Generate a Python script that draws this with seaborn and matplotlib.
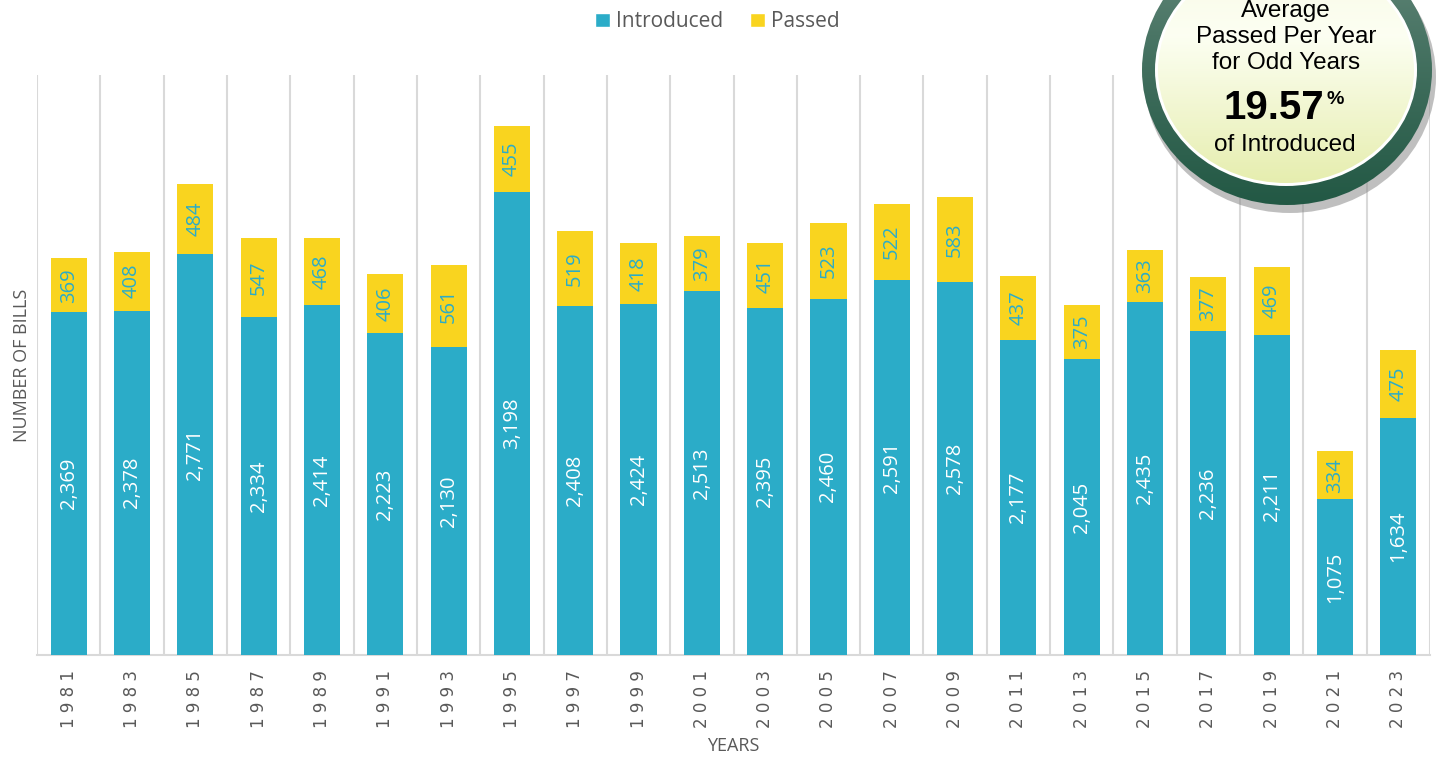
import matplotlib
matplotlib.use("Agg")
import matplotlib.pyplot as plt
import seaborn as sns
import numpy as np
import pandas as pd
from matplotlib.patches import Ellipse, Patch

years = ["1981", "1983", "1985", "1987", "1989", "1991", "1993", "1995", "1997", "1999", "2001",
         "2003", "2005", "2007", "2009", "2011", "2013", "2015", "2017", "2019", "2021", "2023"]
introduced = [2369, 2378, 2771, 2334, 2414, 2223, 2130, 3198, 2408, 2424, 2513,
              2395, 2460, 2591, 2578, 2177, 2045, 2435, 2236, 2211, 1075, 1634]
passed = [369, 408, 484, 547, 468, 406, 561, 455, 519, 418, 379,
          451, 523, 522, 583, 437, 375, 363, 377, 469, 334, 475]
badge_lines = ["Average", "Passed Per Year", "for Odd Years"]
badge_value = "19.57"
badge_tail = "of Introduced"

TEAL = "#2BACC8"
YELLOW = "#F9D41F"
GRAY = "#595959"
GRID = "#D9D9D9"

sns.set_theme(style="white")
plt.rcParams["font.family"] = ["Open Sans", "DejaVu Sans"]

df = pd.DataFrame({"year": years, "introduced": introduced, "passed": passed})
df["total"] = df["introduced"] + df["passed"]

fig = plt.figure(figsize=(14.36, 7.6), dpi=100)
ax = fig.add_axes([37 / 1436, 105 / 760, (1430 - 37) / 1436, (655 - 75) / 760])

sns.barplot(data=df, x="year", y="total", color=YELLOW, width=0.57, saturation=1,
            ax=ax, linewidth=0, zorder=3)
sns.barplot(data=df, x="year", y="introduced", color=TEAL, width=0.57, saturation=1,
            ax=ax, linewidth=0, zorder=4)

for i, (iv, pv) in enumerate(zip(introduced, passed)):
    ax.text(i, iv / 2, f"{iv:,}", rotation=90, ha="center", va="center",
            color="white", fontsize=14.5, zorder=5)
    ax.text(i, iv + pv / 2, f"{pv:,}", rotation=90, ha="center", va="center",
            color=TEAL, fontsize=14.5, zorder=5)

ax.set_ylim(0, 4005)
ax.set_xlim(-0.5, len(years) - 0.5)
ax.set_yticks([])
ax.set_xticks(range(len(years)))
ax.set_xticklabels([" ".join(y) for y in years], rotation=90, fontsize=12, color=GRAY,
                   family=["DejaVu Sans"])
ax.tick_params(axis="x", length=0, pad=11)
ax.set_xticks(np.arange(-0.5, len(years)), minor=True)
ax.grid(False)
ax.grid(True, which="minor", axis="x", color=GRID, linewidth=1.5, zorder=0)
ax.tick_params(axis="x", which="minor", length=0)
for s in ["top", "right", "left"]:
    ax.spines[s].set_visible(False)
ax.spines["bottom"].set_color(GRID)
ax.spines["bottom"].set_linewidth(1.5)
ax.set_xlabel("YEARS", fontsize=13, color=GRAY, labelpad=6)
ax.set_ylabel("NUMBER OF BILLS", fontsize=13, color=GRAY, labelpad=4)

handles = [Patch(facecolor=TEAL, label="Introduced"), Patch(facecolor=YELLOW, label="Passed")]
leg = fig.legend(handles=handles, loc="upper center", bbox_to_anchor=(0.4995, 1.01), ncol=2,
                 frameon=False, fontsize=15, handlelength=0.7, handleheight=0.7,
                 handletextpad=0.3, columnspacing=1.3)
for t in leg.get_texts():
    t.set_color(GRAY)

# badge
bx = fig.add_axes([1120 / 1436, (760 - 230) / 760, 316 / 1436, 230 / 760])
bx.set_xlim(1120, 1436)
bx.set_ylim(230, 0)
bx.axis("off")
bx.add_patch(Ellipse((1290, 77), 292, 272, facecolor="#8c8c8c", alpha=0.55, edgecolor="none"))
g = np.linspace(0, 1, 256).reshape(-1, 1, 1)
ring_top = np.array([0x72, 0x92, 0x86]) / 255
ring_bot = np.array([0x22, 0x58, 0x44]) / 255
ring_img = ring_top + (ring_bot - ring_top) * g ** 0.7
rim = bx.imshow(ring_img[::-1], extent=[1140, 1434, 207, -66], aspect="auto", zorder=1,
                origin="lower")
rim.set_clip_path(Ellipse((1287, 70), 290, 270, transform=bx.transData))
bx.add_patch(Ellipse((1286, 70), 262, 232, facecolor="white", edgecolor="none", zorder=2))
top_c = np.array([0.97, 0.98, 0.90])
mid_c = np.array([0.99, 1.0, 0.95])
bot_c = np.array([0.90, 0.93, 0.68])
t = np.linspace(0, 1, 256)
fill = np.array([mid_c + (top_c - mid_c) * (1 - tt / 0.35) if tt < 0.35
                 else mid_c + (bot_c - mid_c) * ((tt - 0.35) / 0.65) for tt in t]).reshape(-1, 1, 3)
im = bx.imshow(fill[::-1], extent=[1155, 1418, 186, -46], aspect="auto", zorder=3, origin="lower")
im.set_clip_path(Ellipse((1286, 70), 256, 226, transform=bx.transData))

badge_font = ["Liberation Sans", "DejaVu Sans"]
for y, line in zip([11, 37, 63], badge_lines):
    bx.text(1286, y, line, ha="center", va="center", fontsize=17.5, family=badge_font,
            color="black", zorder=5)
bx.text(1274, 108, badge_value, ha="center", va="center", fontsize=29, fontweight="bold",
        family=badge_font, color="black", zorder=5)
bx.text(1335, 100, "%", ha="center", va="center", fontsize=14, fontweight="bold",
        family=badge_font, color="black", zorder=5)
bx.text(1285, 145, badge_tail, ha="center", va="center", fontsize=17.5, family=badge_font,
        color="black", zorder=5)

fig.savefig("out.png", dpi=100)
